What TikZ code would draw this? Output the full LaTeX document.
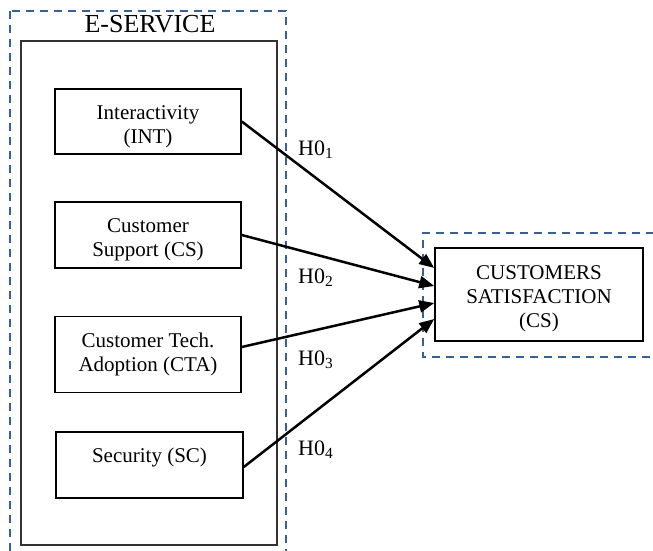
\documentclass[tikz,border=0pt]{standalone}
\usepackage{fontspec}
\setmainfont{Liberation Serif}
\usetikzlibrary{arrows.meta}
\usetikzlibrary{calc}

\definecolor{frameblue}{RGB}{58,96,146}
\newcommand{\topgap}[1]{\rule{0pt}{#1pt}}

\tikzset{
    factor/.style={draw, line width=1.5pt, minimum width=186pt, align=center, inner sep=2pt, font=\fontsize{21}{24}\selectfont},
    frame/.style={draw=frameblue, line width=2.6pt, dash pattern=on 8pt off 6pt},
    hyp/.style={-{Triangle[length=15pt,width=12pt]}, line width=2.5pt},
    hlabel/.style={inner sep=0pt, font=\fontsize{22}{24}\selectfont},
}

\begin{document}
\begin{tikzpicture}[x=1pt, y=-1pt]
        \useasboundingbox (0,0) rectangle (653,551);
        \draw [frame] (10,11) rectangle (286,566);
        \draw [line width=1.1pt, draw=black!80] (21,41) rectangle (277,545);
        \node [font=\fontsize{26}{28}\selectfont] (eservice) at (150,24) {E-SERVICE};
        \node [factor, minimum height=65pt] (int) at (148,121.5) {\topgap{25}Interactivity\\(INT)};
        \node [factor, minimum height=66pt] (cs) at (148,235) {\topgap{24}Customer\\Support (CS)};
        \node [factor, minimum height=76pt] (cta) at (148,354.5) {Customer Tech.\\Adoption (CTA)};
        \node [factor, minimum height=66pt, minimum width=187pt, text depth=20pt] (sc) at (149.5,465) {Security (SC)};
        \draw [frame] (668,233) -- (423,233) -- (423,357) -- (668,357);
        \node [factor, minimum width=208pt, minimum height=93pt] (csat) at (539,294.5) {\topgap{23}CUSTOMERS\\SATISFACTION\\(CS)};
        \foreach \src/\sy/\dy in {int/0/-26.5, cs/0/-8.5, cta/-7.5/8.5, sc/2/24.5}
            \draw [hyp] ($(\src.east)+(0,\sy)$) -- ($(csat.west)+(0,\dy)$);
        \foreach \i/\y in {1/155, 2/283, 3/365, 4/455}
            \node [hlabel, anchor=base west] (h\i) at (298,\y) {H0\textsubscript{\i}};
    \end{tikzpicture}
\end{document}
